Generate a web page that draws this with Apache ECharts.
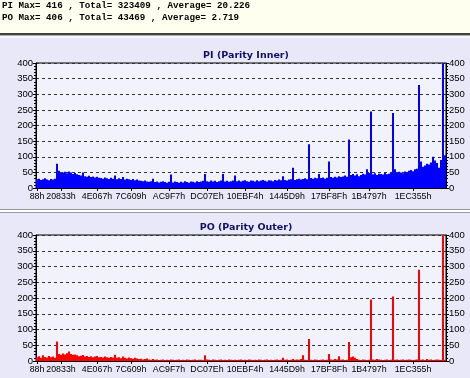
<!DOCTYPE html>
<html>
<head>
<meta charset="utf-8">
<script src="https://cdn.jsdelivr.net/npm/echarts@6/dist/echarts.min.js"></script>
<style>
html,body{margin:0;padding:0;background:#e8e8f8;}
#chart{width:470px;height:378px;}
</style>
</head>
<body>
<div id="chart"></div>
<script>
// header summary lines
var headerLines = [
  'PI Max= 416 , Total= 323409 , Average= 20.226',
  'PO Max= 406 , Total= 43469 , Average= 2.719'
];
// x labels (LBA, hex) and the bin each one sits on
var tickLabels = ['88h','20833h','4E067h','7C609h','AC9F7h','DC07Eh','10EBF4h','1445D9h','17BF8Fh','1B4797h','1EC355h'];
var tickBins = [0, 12, 30, 47, 66, 85, 104, 125, 146, 166, 188];
var yTicks = [0, 50, 100, 150, 200, 250, 300, 350, 400];

// PI (Parity Inner), one value per 2px bin
var piValues = [
  28,30,26,28,31,27,25,29,27,30,
  78,55,48,50,52,47,53,50,45,48,
  44,42,40,50,38,36,39,35,37,34,36,33,
  32,30,34,31,29,33,30,40,28,31,29,35,27,30,28,26,29,25,27,24,
  23,22,24,21,20,22,30,19,21,18,20,22,19,17,20,43,18,21,19,17,20,18,22,19,17,21,20,18,22,19,
  21,23,45,22,20,24,21,23,19,22,24,45,21,23,20,22,24,40,
  22,24,21,23,25,22,20,24,23,21,25,22,24,26,23,21,25,24,22,26,24,27,
  25,38,26,24,27,28,65,26,28,30,27,29,31,28,
  140,32,30,33,31,45,32,34,30,33,
  85,35,33,36,34,38,35,37,40,36,
  155,42,45,40,44,38,42,46,43,60,48,
  245,44,47,42,46,45,43,48,44,46,50,
  240,60,48,52,50,47,53,51,55,58,54,60,62,
  330,85,68,72,78,75,82,100,88,80,65,90,
  416,105
];
// PO (Parity Outer)
var poValues = [
  12,15,10,18,13,11,16,12,14,10,
  62,22,20,24,21,25,30,22,20,21,
  18,15,17,19,14,16,13,15,12,14,16,12,
  13,11,14,12,10,13,11,20,10,12,9,14,10,8,11,9,7,10,8,6,
  7,5,6,8,5,4,6,4,5,3,4,5,3,4,3,5,4,3,4,5,3,4,3,5,4,3,4,5,3,4,
  4,3,18,5,4,3,5,4,3,4,5,3,4,3,5,4,3,4,
  3,4,5,3,4,3,5,4,3,4,3,5,4,3,4,5,3,4,3,4,5,3,
  4,10,4,5,3,4,6,4,5,4,6,18,4,3,
  70,4,3,5,4,3,4,5,3,4,
  22,5,4,6,5,15,4,5,3,4,
  60,12,14,10,6,4,3,5,4,3,4,
  195,5,4,6,5,4,3,4,5,3,4,
  205,4,5,3,4,5,3,4,5,4,3,4,5,
  290,4,5,3,6,4,5,3,4,5,4,3,
  406,4
];

var categories = piValues.map(function(v, i){
  var k = tickBins.indexOf(i);
  return k >= 0 ? tickLabels[k] : '';
});
function isTick(i){ return tickBins.indexOf(i) >= 0; }

var font = 'Liberation Sans';
var plots = [
  {title:'PI (Parity Inner)', top:63, height:125, titleY:46, data:piValues, color:'#0000ff'},
  {title:'PO (Parity Outer)', top:235, height:126, titleY:218, data:poValues, color:'#ff0000'}
];

function yAxis(gi, pos){
  return {
    type:'value', gridIndex:gi, position:pos, min:yTicks[0], max:yTicks[yTicks.length-1], interval:50,
    axisLine:{show:true, lineStyle:{color:'#000', width:1}},
    axisTick:{show:true, length:3, lineStyle:{color:'#000'}},
    minorTick:{show:true, splitNumber:5, length:2, lineStyle:{color:'#000'}},
    axisLabel:{fontFamily:font, fontSize:9.5, color:'#000', margin:3},
    splitLine:{show:pos === 'left', lineStyle:{color:'#333', type:[3,3], width:1}}
  };
}

var option = {
  animation:false,
  backgroundColor:'#e8e8f8',
  title: plots.map(function(p){
    return {text:p.title, left:241, top:p.titleY, textAlign:'center',
      textStyle:{fontFamily:'DejaVu Sans', fontSize:9.5, fontWeight:'bold', color:'#10106a'}};
  }),
  graphic:[
    {type:'rect', shape:{x:0, y:0, width:470, height:33}, style:{fill:'#fffff0'}},
    {type:'rect', shape:{x:0, y:33, width:470, height:2}, style:{fill:'#404040'}},
    {type:'rect', shape:{x:0, y:35, width:470, height:1}, style:{fill:'#b0b0b0'}},
    {type:'rect', shape:{x:0, y:36, width:470, height:2}, style:{fill:'#f4f4fc'}},
    {type:'rect', shape:{x:0, y:209, width:470, height:1}, style:{fill:'#9898a8'}},
    {type:'rect', shape:{x:0, y:210, width:470, height:2}, style:{fill:'#ffffff'}},
    {type:'rect', shape:{x:0, y:212, width:470, height:1}, style:{fill:'#9898a8'}},
    {type:'text', x:2, y:1, style:{text:headerLines[0], fontFamily:'Liberation Mono', fontSize:9.2, fontWeight:'bold', fill:'#000'}},
    {type:'text', x:2, y:13, style:{text:headerLines[1], fontFamily:'Liberation Mono', fontSize:9.2, fontWeight:'bold', fill:'#000'}}
  ],
  grid: plots.map(function(p){
    return {left:36, top:p.top, width:410, height:p.height, show:true,
      backgroundColor:'#f2f2fd', borderColor:'#000', borderWidth:1};
  }),
  xAxis: plots.map(function(p, gi){
    return {
      type:'category', gridIndex:gi, data:categories, boundaryGap:true,
      axisLine:{lineStyle:{color:'#000'}},
      axisTick:{show:true, interval:isTick, alignWithLabel:true, length:3, lineStyle:{color:'#000'}},
      axisLabel:{interval:isTick, showMinLabel:true, hideOverlap:false, fontFamily:font, fontSize:8.8, color:'#000', margin:4},
      splitLine:{show:false}
    };
  }),
  yAxis: [yAxis(0,'left'), yAxis(0,'right'), yAxis(1,'left'), yAxis(1,'right')],
  series: plots.map(function(p, gi){
    return {type:'bar', xAxisIndex:gi, yAxisIndex:gi*2, data:p.data,
      barCategoryGap:'0%', itemStyle:{color:p.color}, silent:true};
  })
};

var chart = echarts.init(document.getElementById('chart'));
chart.setOption(option);
</script>
</body>
</html>
